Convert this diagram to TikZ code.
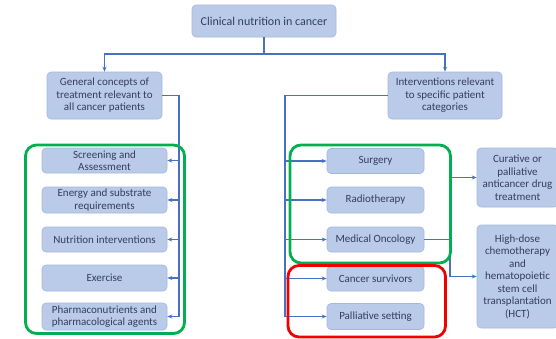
\documentclass[tikz,border=0pt]{standalone}
\usepackage{fontspec}
\setmainfont{Carlito}
\usetikzlibrary{arrows.meta}
\definecolor{boxfill}{RGB}{186,202,233}
\definecolor{boxline}{RGB}{164,184,222}
\definecolor{conn}{RGB}{74,112,196}
\definecolor{txt}{RGB}{52,62,92}
\definecolor{grn}{RGB}{0,176,80}
\definecolor{rd}{RGB}{240,0,0}
\tikzset{
  bx/.style={draw=boxline, fill=boxfill, rounded corners=4pt, line width=0.6pt,
    text=txt, font=\fontsize{11}{12.5}\selectfont, align=center, inner sep=1pt},
  cn/.style={draw=conn, line width=1.1pt},
  ar/.style={cn, -{Stealth[length=5pt,width=4pt]}},
  frame/.style={line width=2.8pt, rounded corners=11pt},
}
\begin{document}
\begin{tikzpicture}[x=1pt,y=-1pt]
\clip (0,0) rectangle (556,338);
\fill[white] (0,0) rectangle (556,338);
% top
\node[bx, minimum width=144pt, minimum height=32pt, font=\fontsize{12}{13}\selectfont] (top) at (264,21) {Clinical nutrition in cancer};
\node[bx, minimum width=115pt, minimum height=47pt] (gen) at (104.5,95.5) {General concepts of\\treatment relevant to\\all cancer patients};
\node[bx, minimum width=114pt, minimum height=47pt] (int) at (445,95.5) {Interventions relevant\\to specific patient\\categories};
\coordinate (j) at (264,54);
\draw[cn] (top.south) -- (j);
\draw[ar] (j) -| (gen.north);
\draw[ar] (j) -| (int.north);
% left children
\node[bx, minimum width=125pt, minimum height=25pt] (s1) at (104.5,160.5) {Screening and\\Assessment};
\node[bx, minimum width=125pt, minimum height=26pt] (s2) at (104.5,200) {Energy and substrate\\requirements};
\node[bx, minimum width=125pt, minimum height=25pt] (s3) at (104.5,239.5) {Nutrition interventions};
\node[bx, minimum width=125pt, minimum height=26pt] (s4) at (104.5,278) {Exercise};
\node[bx, minimum width=125pt, minimum height=27pt] (s5) at (104.5,316.5) {Pharmaconutrients and\\pharmacological agents};
\coordinate (lt) at (179,95.5);
\coordinate (lb) at (179,316.5);
\draw[cn] (gen.east) -- (lt) -- (lb);
\foreach \n in {s1,s2,s3,s4,s5}{
  \draw[ar] (\n.east -| lt) -- (\n.east);
}
% right children
\node[bx, minimum width=97pt, minimum height=25pt] (r1) at (375.5,161) {Surgery};
\node[bx, minimum width=97pt, minimum height=26pt] (r2) at (375.5,200) {Radiotherapy};
\node[bx, minimum width=97pt, minimum height=25pt] (r3) at (375.5,239.5) {Medical Oncology};
\node[bx, minimum width=97pt, minimum height=25pt] (r4) at (375.5,278.5) {Cancer survivors};
\node[bx, minimum width=97pt, minimum height=26pt] (r5) at (375.5,316.5) {Palliative setting};
\coordinate (rt) at (285,95.5);
\coordinate (rb) at (285,316.5);
\draw[cn] (int.west) -- (rt) -- (rb);
\foreach \n in {r1,r2,r3,r4,r5}{
  \draw[ar] (\n.west -| rt) -- (\n.west);
}
% far right
\node[bx, minimum width=81pt, minimum height=59pt] (cur) at (517.5,177.5) {Curative or\\palliative\\anticancer drug\\treatment};
\node[bx, minimum width=81pt, minimum height=103pt] (hct) at (517.5,276.5) {High-dose\\chemotherapy\\and\\hematopoietic\\stem cell\\transplantation\\(HCT)};
\coordinate (mo) at (450,239.5);
\draw[cn] (r3.east) -- (mo);
\draw[ar] (mo) |- (cur.west);
\draw[ar] (mo) |- (hct.west);
% frames
\draw[frame, grn] (25.5,145) rectangle (184.5,333.5);
\draw[frame, grn] (290,145) rectangle (450.5,263);
\draw[frame, rd] (288,265.5) rectangle (445.5,337);
\end{tikzpicture}
\end{document}
